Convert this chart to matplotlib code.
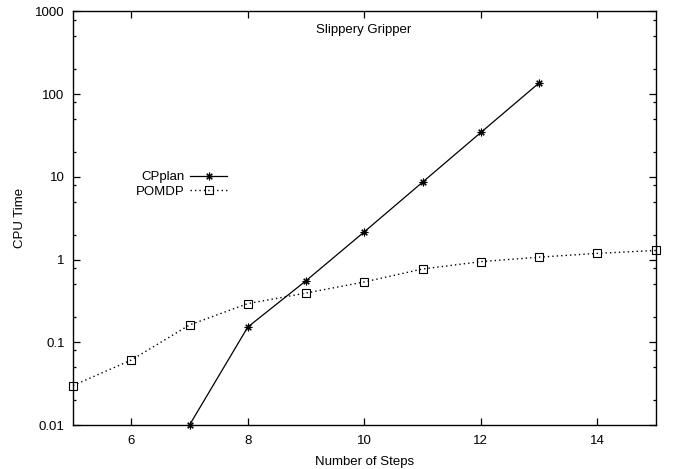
import matplotlib
matplotlib.use("Agg")
import matplotlib.pyplot as plt
from matplotlib.ticker import FixedLocator, NullFormatter, NullLocator
from matplotlib.lines import Line2D

plt.rcParams['font.family'] = ['Liberation Sans', 'DejaVu Sans']

cp_steps = [7, 8, 9, 10, 11, 12, 13]
cp_time = [0.01, 0.153, 0.556, 2.17, 8.65, 34.5, 137]
pomdp_steps = [5, 6, 7, 8, 9, 10, 11, 12, 13, 14, 15]
pomdp_time = [0.030, 0.061, 0.162, 0.294, 0.394, 0.537, 0.77, 0.945, 1.07, 1.19, 1.29]
x_ticks = [6, 8, 10, 12, 14]
y_ticks = [0.01, 0.1, 1, 10, 100, 1000]
y_labels = ["0.01", "0.1", "1", "10", "100", "1000"]

FS = 9.5
fig = plt.figure(figsize=(6.75, 4.69), dpi=100)
ax = fig.add_axes([73/675, 44/469, (655.7-73)/675, (425-11.5)/469])

asterisk = (8, 2, 0)
ax.plot(cp_steps, cp_time, color='black', lw=0.9, marker=asterisk, ms=5.5,
        mew=0.8, clip_on=False, zorder=3)
ax.plot(pomdp_steps, pomdp_time, color='black', lw=1.0, ls=(0, (1, 2.2)),
        marker='s', ms=5.5, mfc='none', mew=0.8, clip_on=False, zorder=3)

ax.set_yscale('log')
ax.set_xlim(5, 15)
ax.set_ylim(0.01, 1000)

ax.xaxis.set_major_locator(FixedLocator(x_ticks))
ax.xaxis.set_minor_locator(NullLocator())
ax.yaxis.set_major_locator(FixedLocator(y_ticks))
ax.set_yticklabels(y_labels)
minor = [m * 10.0**e for e in range(-2, 3) for m in (2, 5, 8)]
ax.yaxis.set_minor_locator(FixedLocator(minor))
ax.yaxis.set_minor_formatter(NullFormatter())

ax.tick_params(which='major', direction='in', length=5, width=0.9,
               top=True, right=True, labelsize=FS, pad=6)
ax.tick_params(axis='x', which='major', pad=7.5)
ax.tick_params(which='minor', direction='in', length=2.5, width=0.9,
               top=False, right=True)
for s in ax.spines.values():
    s.set_linewidth(1.0)

ax.set_xlabel("Number of Steps", fontsize=FS, labelpad=6)
fig.text(20/675, 1 - 218/469, "CPU Time", rotation=90, ha='center',
         va='center', fontsize=FS)
fig.text(364/675, 1 - 30/469, "Slippery Gripper",
         ha='center', va='center', fontsize=FS)

handles = [
    Line2D([], [], color='black', lw=0.9, marker=asterisk, ms=5.5, mew=0.8),
    Line2D([], [], color='black', lw=1.0, ls=(0, (1, 2.2)), marker='s', ms=5.5,
           mfc='none', mew=0.8),
]
leg = fig.legend(handles, ["CPplan", "POMDP"], loc='upper right',
                 bbox_to_anchor=(227/675, (469-171)/469),
                 frameon=False, markerfirst=False, fontsize=FS,
                 handlelength=2.8, handletextpad=0.4, labelspacing=0.2,
                 borderpad=0, borderaxespad=0, numpoints=1)

fig.savefig("out.png", dpi=100)
